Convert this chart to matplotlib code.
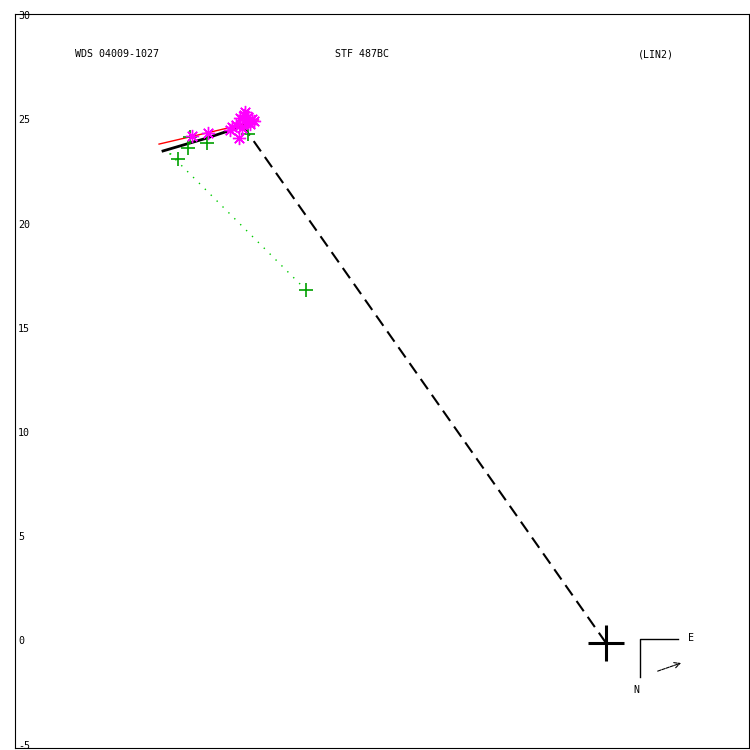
import numpy as np
import matplotlib
matplotlib.use("Agg")
import matplotlib.pyplot as plt
import matplotlib.transforms as mtransforms

# Datos de la orbita (segundos de arco relativos a la primaria)
orbitaX = [-21.25, -19.14, -16.98]
orbitaY = [23.60, 24.22, 24.94]

rectaRojaX = [-21.44, -16.69]
rectaRojaY = [23.93, 25.04]

lineaNodosX = [0.0, -17.41]
lineaNodosY = [0.0, 24.80]

# Observaciones visuales (+) y fotograficas/interferometricas (*)
obsVisX = [-20.53, -20.05, -19.95, -19.14, -17.17, -14.39]
obsVisY = [23.21, 23.74, 24.27, 23.98, 24.41, 16.93]

ocX = [[-14.39, -21.01], [-20.53, -21.01]]
ocY = [[16.93, 23.55], [23.21, 23.55]]

obsInterX = [-19.86, -19.09, -18.03, -17.60, -17.55, -17.36, -17.17, -16.98,
             -17.75, -17.27, -17.07, -17.46, -17.94, -17.30, -16.90]
obsInterY = [24.32, 24.46, 24.60, 24.22, 25.18, 25.32, 25.23, 25.13,
             24.84, 24.94, 24.89, 24.70, 24.75, 25.45, 25.05]

marcasY = [30, 25, 20, 15, 10, 5, 0, -5]

fuente = "DejaVu Sans Mono"
tam = 7.2

fig = plt.figure(figsize=(7.5, 7.5), dpi=100)
ax = fig.add_axes([15/750, 2/750, 734/750, 734/750])
ax.set_xlim(-28.35, 6.86)
ax.set_ylim(-5.04, 30.17)

# orbita
ax.plot(orbitaX, orbitaY, color="black", lw=2.0, zorder=3)
ax.plot(rectaRojaX, rectaRojaY, color="red", lw=1.0, zorder=2)
ax.plot(lineaNodosX, lineaNodosY, color="black", lw=1.5, dashes=(6, 3.3), zorder=3)

# lineas O-C
for xs, ys in zip(ocX, ocY):
    ax.plot(xs, ys, color="#00cc00", lw=1.0, dashes=(1, 5), zorder=2)

ax.plot(obsVisX, obsVisY, ls="none", marker="+", ms=9.5, mew=1.2,
        color="#00a000", zorder=4)
ax.plot(obsInterX, obsInterY, ls="none", marker=(8, 2, 0), ms=9.5, mew=1.0,
        color="#ff00ff", zorder=5)

# primaria
ax.plot([0], [0], ls="none", marker="+", ms=26, mew=2.2, color="black", zorder=6)

# brujula
ax.plot([0.8515, 0.8515, 0.9033], [0.0967, 0.1485, 0.1485], color="black",
        lw=1.0, transform=ax.transAxes)
ax.text(0.917, 0.150, "E", transform=ax.transAxes, fontsize=tam,
        family=fuente, ha="left", va="center")
ax.text(0.847, 0.079, "N", transform=ax.transAxes, fontsize=tam,
        family=fuente, ha="center", va="center")
ax.annotate("", xy=(0.911, 0.117), xytext=(0.872, 0.1035),
            xycoords="axes fraction",
            arrowprops=dict(arrowstyle="->", lw=0.8, ls=(0, (3, 1)), color="black"))

# textos
ax.text(0.0817, 0.9455, "WDS 04009-1027", transform=ax.transAxes, fontsize=tam,
        family=fuente, ha="left", va="center")
ax.text(0.436, 0.9455, "STF 487BC", transform=ax.transAxes, fontsize=tam,
        family=fuente, ha="left", va="center")
ax.text(0.849, 0.9455, "(LIN2)", transform=ax.transAxes, fontsize=tam,
        family=fuente, ha="left", va="center")

# etiquetas del eje y, dentro del marco y algo desplazadas hacia arriba
ax.set_xticks([])
ax.set_yticks([])
trans = mtransforms.blended_transform_factory(ax.transAxes, ax.transData)
trans = trans + mtransforms.ScaledTranslation(3/100, 1.5/100, fig.dpi_scale_trans)
for v in marcasY:
    ax.text(0, v, str(v), transform=trans, fontsize=tam, family=fuente,
            ha="left", va="center")

for s in ax.spines.values():
    s.set_linewidth(0.8)

fig.savefig("out.png", dpi=100)
